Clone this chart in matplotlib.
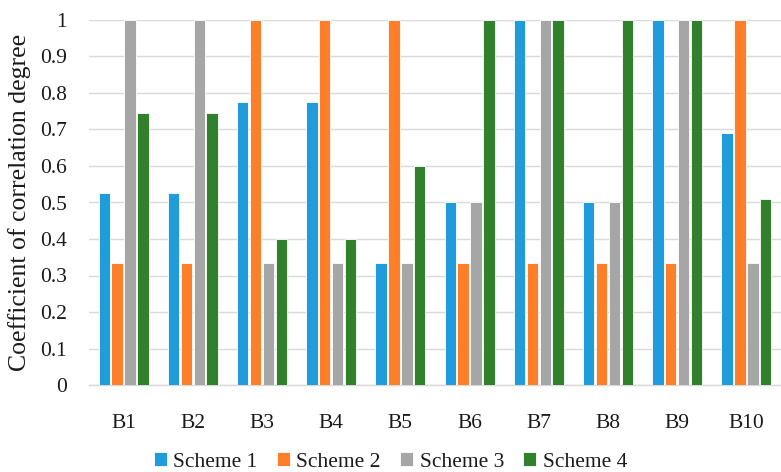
import matplotlib
matplotlib.use("Agg")
import matplotlib.pyplot as plt
import numpy as np

categories = ["B1", "B2", "B3", "B4", "B5", "B6", "B7", "B8", "B9", "B10"]
scheme1 = [0.525, 0.525, 0.775, 0.775, 0.333, 0.5, 1.0, 0.5, 1.0, 0.69]
scheme2 = [0.333, 0.333, 1.0, 1.0, 1.0, 0.333, 0.333, 0.333, 0.333, 1.0]
scheme3 = [1.0, 1.0, 0.333, 0.333, 0.333, 0.5, 1.0, 0.5, 1.0, 0.333]
scheme4 = [0.745, 0.745, 0.4, 0.4, 0.6, 1.0, 1.0, 1.0, 1.0, 0.51]
series_names = ["Scheme 1", "Scheme 2", "Scheme 3", "Scheme 4"]
yticks = [0, 0.1, 0.2, 0.3, 0.4, 0.5, 0.6, 0.7, 0.8, 0.9, 1]
ytick_labels = ["0", "0.1", "0.2", "0.3", "0.4", "0.5", "0.6", "0.7", "0.8", "0.9", "1"]

colors = ["#1f9cd9", "#fe7f2a", "#a6a6a6", "#31812c"]

plt.rcParams["font.family"] = ["Liberation Serif", "DejaVu Serif"]

fig = plt.figure(figsize=(7.81, 4.72), dpi=100)
ax = fig.add_axes([89 / 781, 87 / 472, 692 / 781, 365 / 472])

x = np.arange(len(categories))
step = 0.186
width = 0.165
for i, (vals, name, c) in enumerate(zip([scheme1, scheme2, scheme3, scheme4], series_names, colors)):
    ax.bar(x + (i - 1.5) * step, vals, width=width, color=c, edgecolor="white",
           linewidth=0.6, label=name, zorder=3)

ax.set_xlim(-0.5, len(categories) - 0.5)
ax.set_ylim(0, 1)
ax.set_yticks(yticks)
ax.set_yticklabels(ytick_labels)
ax.set_xticks(x)
ax.set_xticklabels(categories)
ax.yaxis.grid(True, color="#d9d9d9", linewidth=1.0, zorder=0)
ax.set_axisbelow(True)
for s in ["top", "right", "left"]:
    ax.spines[s].set_visible(False)
ax.spines["bottom"].set_color("#d9d9d9")
ax.spines["bottom"].set_linewidth(1.0)
ax.tick_params(axis="both", length=0, labelsize=15.5, colors="#1a1a1a")
ax.tick_params(axis="x", pad=21)
ax.tick_params(axis="y", pad=16)
ax.set_ylabel("Coefficient of correlation degree", fontsize=18.5, color="#1a1a1a")
ax.yaxis.set_label_coords((31 - 89) / 692, 0.5)

handles, labels = ax.get_legend_handles_labels()
fig.legend(handles, labels, loc="center", bbox_to_anchor=(0.5, 1 - 462 / 472), ncol=4,
           frameon=False, fontsize=15.5, handlelength=0.6, handleheight=0.6,
           handletextpad=0.3, columnspacing=0.9, labelcolor="#1a1a1a")

fig.savefig("out.png", dpi=100)
